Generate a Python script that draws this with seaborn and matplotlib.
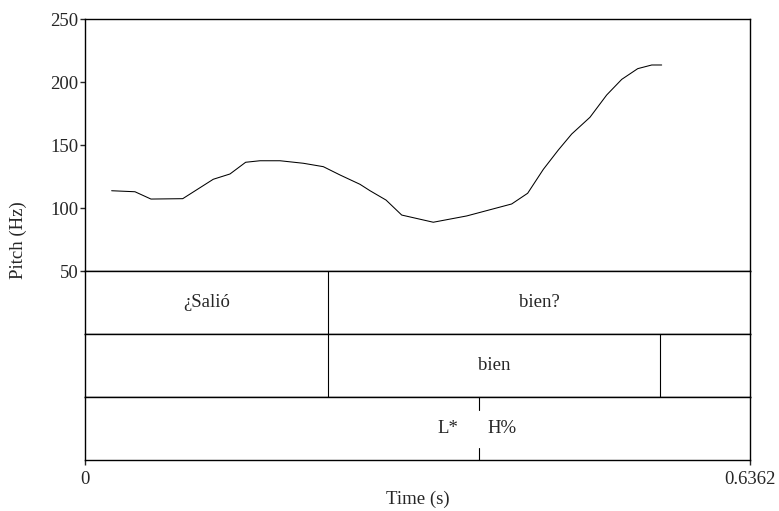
import numpy as np
import pandas as pd
import seaborn as sns
import matplotlib.pyplot as plt

# pitch contour
time_s = [0.0255, 0.0478, 0.0631, 0.0935, 0.1227, 0.1387, 0.1537, 0.1674,
          0.1866, 0.2089, 0.2280, 0.2440, 0.2631, 0.2727, 0.2880, 0.3030,
          0.3332, 0.3652, 0.4082, 0.4235, 0.4385, 0.4528, 0.4656, 0.4831,
          0.4991, 0.5135, 0.5288, 0.5422, 0.5517]
pitch_hz = [113.7, 112.9, 107.1, 107.4, 122.8, 127.0, 136.3, 137.5,
            137.5, 135.5, 132.8, 126.2, 118.8, 113.7, 106.3, 94.4,
            88.7, 93.7, 103.2, 111.7, 130.7, 146.0, 158.7, 172.0,
            189.7, 202.1, 210.6, 213.5, 213.5]

t_end = 0.6362
words = ["¿Salió", "bien?"]
word_bounds = [0.0, 0.2325, t_end]
tier2_labels = ["", "bien", ""]
tier2_bounds = [0.0, 0.2325, 0.5501, t_end]
tone_time = 0.3767
tone_left, tone_right = "L*", "H%"

sns.set_style("ticks")
plt.rcParams['font.family'] = ['Liberation Serif', 'DejaVu Serif']
plt.rcParams['font.size'] = 13.5
plt.rcParams['axes.linewidth'] = 1.0

fig, axes = plt.subplots(4, 1, figsize=(7.79, 5.11), dpi=100, sharex=True,
                         gridspec_kw={'height_ratios': [4, 1, 1, 1], 'hspace': 0})
fig.subplots_adjust(left=85/779, right=750/779, top=1-19/511, bottom=1-460/511)

df = pd.DataFrame({'Time': time_s, 'Pitch': pitch_hz})
ax = axes[0]
sns.lineplot(data=df, x='Time', y='Pitch', ax=ax, color='black', lw=0.75)
ax.set_xlim(0, t_end)
ax.set_ylim(50, 250)
ax.set_yticks([50, 100, 150, 200, 250])
ax.set_xlabel('')
ax.set_ylabel('')
ax.tick_params(axis='y', direction='out', length=3.6, width=1.0, pad=1)
ax.tick_params(axis='x', length=0)

for a in axes:
    for s in a.spines.values():
        s.set_visible(True)
        s.set_color('black')
        s.set_linewidth(1.0)
for a in axes[1:]:
    a.set_ylim(0, 1)
    a.set_yticks([])
    a.tick_params(axis='x', length=0)

# word tier
ax1 = axes[1]
for b in word_bounds[1:-1]:
    ax1.axvline(b, color='black', lw=0.8)
for i, w in enumerate(words):
    ax1.text((word_bounds[i] + word_bounds[i+1]) / 2, 0.5, w,
             ha='center', va='center', fontsize=13.5)

# second tier
ax2 = axes[2]
for b in tier2_bounds[1:-1]:
    ax2.axvline(b, color='black', lw=0.8)
for i, w in enumerate(tier2_labels):
    if w:
        ax2.text((tier2_bounds[i] + tier2_bounds[i+1]) / 2, 0.5, w,
                 ha='center', va='center', fontsize=13.5)

# tone tier (point tier)
ax3 = axes[3]
ax3.axvline(tone_time, ymin=0.794, ymax=1, color='black', lw=0.8)
ax3.axvline(tone_time, ymin=0, ymax=0.19, color='black', lw=0.8)
ax3.annotate(tone_left, (tone_time, 0.5), xytext=(-15, 0), textcoords='offset points',
             ha='right', va='center', fontsize=13.5)
ax3.annotate(tone_right, (tone_time, 0.5), xytext=(6.5, 0), textcoords='offset points',
             ha='left', va='center', fontsize=13.5)

ax3.set_xticks([0, t_end])
ax3.set_xticklabels(['0', '0.6362'])
ax3.tick_params(axis='x', direction='out', length=3.6, width=1.0, pad=4)
ax3.set_xlabel('Time (s)', labelpad=2)

fig.text(18/779, 1 - 240/511, 'Pitch (Hz)', rotation=90, ha='center', va='center',
         fontsize=13.5)

fig.savefig('out.png', dpi=100)
